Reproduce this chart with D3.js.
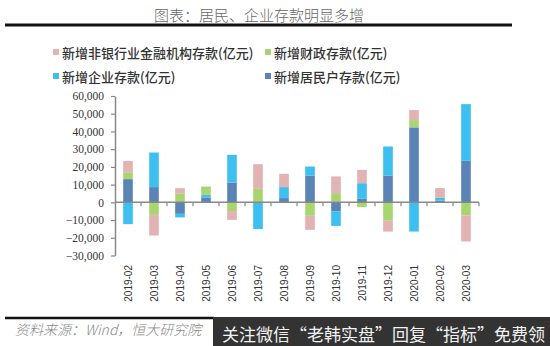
<!DOCTYPE html>
<html><head><meta charset="utf-8">
<script src="https://cdn.jsdelivr.net/npm/d3@7"></script>
<style>
html,body{margin:0;padding:0;background:#fff;}
svg{display:block;}
</style></head>
<body>
<svg id="chart" width="550" height="346"></svg>
<script>
const categories = ["2019-02","2019-03","2019-04","2019-05","2019-06","2019-07","2019-08","2019-09","2019-10","2019-11","2019-12","2020-01","2020-02","2020-03"];
const household  = [13100, 8600, -6500, 2700, 11200, -800, 2400, 15100, -5200, 2000, 15100, 42300, 1000, 23400];
const enterprise = [-12300, 19500, -2000, 1500, 15600, -14300, 6200, 5100, -8100, 8800, 16400, -16500, 1700, 32000];
const fiscal     = [3900, -7100, 4800, 4700, -4900, 7600, 0, -7600, 5200, -2700, -10400, 4100, -300, -7400];
const nonbank    = [6400, -11600, 3200, 0, -5000, 13900, 7500, -7900, 9400, 7500, -6100, 5700, 5400, -14700];
const yTicks = [-30000,-20000,-10000,0,10000,20000,30000,40000,50000,60000];
const seriesNames = {
  nonbank: "新增非银行业金融机构存款(亿元)",
  fiscal: "新增财政存款(亿元)",
  enterprise: "新增企业存款(亿元)",
  household: "新增居民户存款(亿元)"
};
const title = "图表：居民、企业存款明显多增";
const source = "资料来源：Wind，恒大研究院";
const banner = "关注微信“老韩实盘”回复“指标”免费领";

const colors = {household:"#5a84b6", enterprise:"#3dbff0", fiscal:"#a8d570", nonbank:"#e3b2b2"};
const keys = ["household","enterprise","fiscal","nonbank"];

const rows = categories.map((c,i)=>({cat:c, household:household[i], enterprise:enterprise[i], fiscal:fiscal[i], nonbank:nonbank[i]}));

const svg = d3.select("#chart");
const cjk = "'Noto Sans CJK SC','Noto Sans',sans-serif";

// Title
svg.append("text").attr("x",259).attr("y",21).attr("text-anchor","middle")
  .attr("font-family",cjk).attr("font-size",15).attr("font-weight",300).attr("fill","#666").text(title);
svg.append("line").attr("x1",5).attr("x2",512).attr("y1",25).attr("y2",25).attr("stroke","#111").attr("stroke-width",3);

// Legend
const legendItems = [
  {k:"nonbank", x:53, y:52},
  {k:"fiscal", x:265, y:52},
  {k:"enterprise", x:53, y:76},
  {k:"household", x:265, y:76}
];
const lg = svg.append("g");
legendItems.forEach(d=>{
  lg.append("rect").attr("x",d.x).attr("y",d.y-3).attr("width",6).attr("height",6).attr("fill",colors[d.k]);
  lg.append("text").attr("x",d.x+9).attr("y",d.y).attr("dominant-baseline","central")
    .attr("font-family",cjk).attr("font-size",13).attr("font-weight",500).attr("fill","#333").text(seriesNames[d.k]);
});

// Scales
const y = d3.scaleLinear().domain([-30000,60000]).range([255.5,96]);
const p = 0.63;
const x = d3.scaleBand().domain(categories).range([115,479]).paddingInner(p).paddingOuter(p/2);

// Stack
const stack = d3.stack().keys(keys).offset(d3.stackOffsetDiverging);
const series = stack(rows);

svg.append("g").selectAll("g").data(series).join("g")
  .attr("fill", d=>colors[d.key])
  .selectAll("rect").data(d=>d).join("rect")
  .attr("x", d=>x(d.data.cat))
  .attr("width", x.bandwidth())
  .attr("y", d=>y(Math.max(d[0],d[1])))
  .attr("height", d=>Math.abs(y(d[0])-y(d[1])));

// Y axis
const yAxis = d3.axisLeft(y).tickValues(yTicks).tickFormat(d3.format(",")).tickSize(4).tickPadding(7).tickSizeOuter(0);
const ya = svg.append("g").attr("transform","translate(115,0)").call(yAxis);
ya.select(".domain").attr("stroke","#888").attr("stroke-width",1.5);
ya.selectAll(".tick line").attr("stroke","#888").attr("stroke-width",1.2);
ya.selectAll(".tick text").attr("font-family","'Liberation Serif','Times New Roman',serif").attr("font-size",11.5).attr("fill","#333");

// X axis at zero
const y0 = y(0);
const xa = svg.append("g");
xa.append("line").attr("x1",115).attr("x2",479).attr("y1",y0).attr("y2",y0).attr("stroke","#888").attr("stroke-width",1.5);
const bounds = categories.map(c=>x(c)+x.bandwidth()/2-x.step()/2).concat([479]);
xa.selectAll("line.tk").data(bounds.slice(1)).join("line").attr("class","tk")
  .attr("x1",d=>d).attr("x2",d=>d).attr("y1",y0).attr("y2",y0+4).attr("stroke","#888").attr("stroke-width",1.2);
xa.selectAll("text").data(categories).join("text")
  .attr("transform", d=>`translate(${x(d)+x.bandwidth()/2},265) rotate(-90)`)
  .attr("text-anchor","end").attr("dominant-baseline","central")
  .attr("font-family","'Liberation Sans',Arial,sans-serif").attr("font-size",10).attr("fill","#333").text(d=>d);

// Bottom
svg.append("line").attr("x1",5).attr("x2",214).attr("y1",318).attr("y2",318).attr("stroke","#111").attr("stroke-width",2.5);
svg.append("text").attr("x",15).attr("y",335).attr("font-family",cjk).attr("font-size",14).attr("font-style","italic")
  .attr("fill","#888").attr("font-weight",300).text(source);
svg.append("rect").attr("x",213).attr("y",317).attr("width",337).attr("height",29).attr("fill","#333");
svg.append("text").attr("x",222).attr("y",333).attr("dominant-baseline","central").attr("font-family",cjk).attr("font-size",17)
  .attr("fill","#f2f2f2").attr("textLength",323).attr("lengthAdjust","spacingAndGlyphs").text(banner);
</script>
</body></html>
